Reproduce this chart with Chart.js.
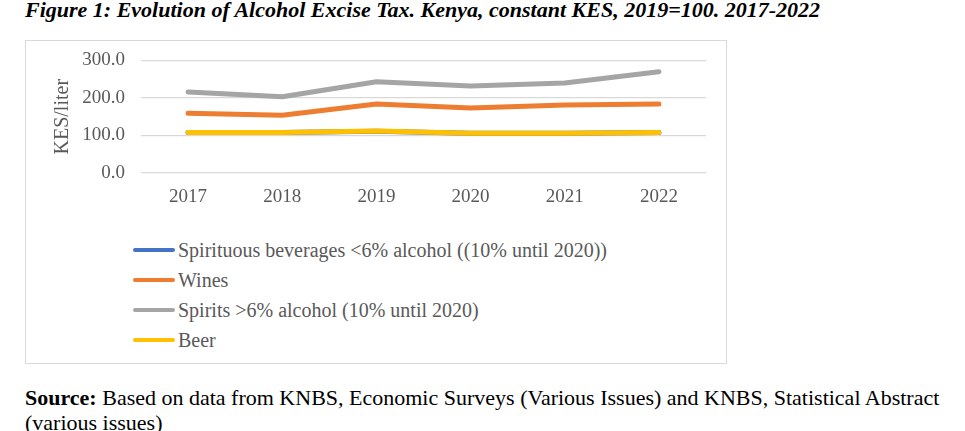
<!DOCTYPE html>
<html>
<head>
<meta charset="utf-8">
<script src="https://cdn.jsdelivr.net/npm/chart.js@4.4.1/dist/chart.umd.min.js"></script>
<style>
    body {
        margin: 0;
        background: #fff;
        font-family: "Liberation Serif", "Times New Roman", serif;
        width: 965px;
        height: 431px;
        position: relative;
        overflow: hidden;
    }
    .fig-title {
        position: absolute;
        left: 25px;
        top: -3px;
        font-size: 22px;
        font-weight: bold;
        font-style: italic;
        white-space: nowrap;
        color: #000;
    }
    .chart-box {
        position: absolute;
        left: 25px;
        top: 40px;
        width: 700px;
        height: 322px;
        border: 1px solid #d9d9d9;
    }
    .chart-wrap {
        position: absolute;
        left: 0;
        top: -8px;
        width: 700px;
        height: 198px;
    }
    .legend {
        position: absolute;
        left: 107px;
        top: 194px;
        margin: 0;
        padding: 0;
        list-style: none;
        font-size: 20px;
        color: #595959;
    }
    .legend li {
        height: 30px;
        line-height: 30px;
        display: flex;
        align-items: center;
        white-space: nowrap;
    }
    .legend .swatch {
        display: inline-block;
        width: 42px;
        height: 4px;
        border-radius: 2px;
        margin-right: 3px;
    }
    .source {
        position: absolute;
        left: 25px;
        top: 385px;
        width: 935px;
        font-size: 22px;
        line-height: 25px;
        color: #000;
    }
</style>
</head>
<body>
<div class="fig-title">Figure 1: Evolution of Alcohol Excise Tax. Kenya, constant KES, 2019=100. 2017-2022</div>
<div class="chart-box">
    <div class="chart-wrap"><canvas id="exciseChart"></canvas></div>
    <ul class="legend" id="legend"></ul>
</div>
<div class="source"><b>Source:</b> Based on data from KNBS, Economic Surveys (Various Issues) and KNBS, Statistical Abstract (various issues)</div>

<script>
// values (KES/liter)
const years = ['2017', '2018', '2019', '2020', '2021', '2022'];
const yTicks = [0, 100, 200, 300];

const spirituousLow = [108, 108, 111, 106, 106, 108];
const wines = [159, 154, 184, 173, 181, 184];
const spiritsHigh = [216, 203, 243, 232, 240, 270];
const beer = [108, 108, 112, 106, 106, 108];

const seriesNames = [
    'Spirituous beverages <6% alcohol ((10% until 2020))',
    'Wines',
    'Spirits >6% alcohol (10% until 2020)',
    'Beer'
];
const seriesColors = ['#4472c4', '#ed7d31', '#a5a5a5', '#ffc000'];

document.addEventListener('DOMContentLoaded', function() {
    const ctx = document.getElementById('exciseChart').getContext('2d');
    const allData = [spirituousLow, wines, spiritsHigh, beer];

    const exciseChart = new Chart(ctx, {
        type: 'line',
        data: {
            labels: years,
            datasets: allData.map((d, i) => ({
                label: seriesNames[i],
                data: d,
                borderColor: seriesColors[i],
                backgroundColor: seriesColors[i],
                borderWidth: 5,
                pointRadius: 0,
                tension: 0,
                order: allData.length - 1 - i,   // later series drawn on top, like Excel
                borderCapStyle: 'round',
                borderJoinStyle: 'round'
            }))
        },
        options: {
            responsive: true,
            maintainAspectRatio: false,
            animation: false,
            layout: {
                padding: { top: 13, right: 20, left: 0, bottom: 0 }
            },
            plugins: {
                legend: { display: false },
                tooltip: { enabled: false }
            },
            scales: {
                x: {
                    offset: true,
                    grid: { display: false, drawTicks: false },
                    border: { display: false },
                    ticks: {
                        color: '#595959',
                        padding: 13,
                        font: { family: 'Liberation Serif', size: 19 }
                    },
                    afterFit: function(scale) { scale.height = 58; }
                },
                y: {
                    min: 0,
                    max: 300,
                    afterBuildTicks: function(scale) {
                        scale.ticks = yTicks.map(v => ({ value: v }));
                    },
                    grid: {
                        color: '#d9d9d9',
                        lineWidth: 1.3,
                        drawTicks: false
                    },
                    border: { display: false },
                    ticks: {
                        color: '#595959',
                        padding: 16,
                        font: { family: 'Liberation Serif', size: 19 },
                        callback: v => v.toFixed(1)
                    },
                    title: {
                        display: true,
                        text: 'KES/liter',
                        color: '#595959',
                        padding: { top: 25, bottom: 0 },
                        font: { family: 'Liberation Serif', size: 20 }
                    },
                    afterFit: function(scale) { scale.width = 115; }
                }
            }
        }
    });

    // Build the stacked legend from the chart's datasets
    const legend = document.getElementById('legend');
    exciseChart.data.datasets.forEach(ds => {
        const li = document.createElement('li');
        const sw = document.createElement('span');
        sw.className = 'swatch';
        sw.style.backgroundColor = ds.borderColor;
        li.appendChild(sw);
        li.appendChild(document.createTextNode(ds.label));
        legend.appendChild(li);
    });
});
</script>
</body>
</html>
